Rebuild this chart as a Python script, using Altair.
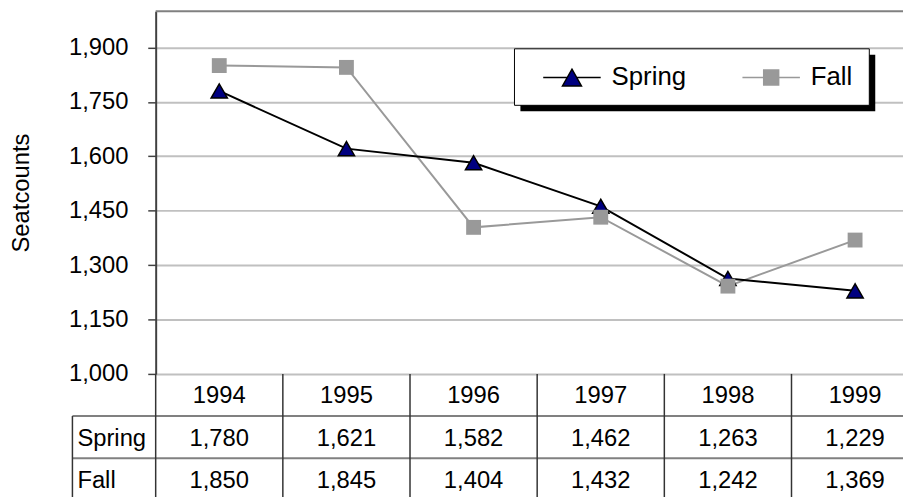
import altair as alt
import pandas as pd

# ---- data ----
years = [1994, 1995, 1996, 1997, 1998, 1999]
spring = [1780, 1621, 1582, 1462, 1263, 1229]
fall = [1850, 1845, 1404, 1432, 1242, 1369]
series = ["Spring", "Fall"]
y_ticks = [1000, 1150, 1300, 1450, 1600, 1750, 1900]

FONT = "Liberation Sans"
W, H = 754, 366          # plot area (extends past the right edge, like the reference)
COL = 128.3              # pixel width of one year column
x_dom = [years[0] - 0.5, years[0] - 0.5 + W / COL]

df = pd.DataFrame({
    "year": years * 2,
    "value": spring + fall,
    "series": ["Spring"] * len(years) + ["Fall"] * len(years),
})
df["row"] = df["series"].map({"Spring": 1.5, "Fall": 2.5})

hdr = pd.DataFrame({"year": years, "row": [0.5] * len(years)})
labels_df = pd.DataFrame({"series": series, "row": [1.5, 2.5]})
bounds = pd.DataFrame({"b": [y - 0.5 for y in years] + [years[-1] + 0.5]})
hlines = pd.DataFrame({"r": [1, 2]})
one = pd.DataFrame({"k": [0]})

xscale = alt.Scale(domain=x_dom, nice=False, zero=False)
yscale = alt.Scale(domain=[1000, 2000], nice=False, zero=False)
tscale = alt.Scale(domain=[0, 3], range=[H, H + 127.5], nice=False, zero=False)

x_enc = alt.X("year:Q", scale=xscale,
              axis=alt.Axis(labels=False, ticks=False, grid=False, title=None,
                            domainColor="black", domainWidth=2))
y_enc = alt.Y("value:Q", scale=yscale,
              axis=alt.Axis(values=y_ticks, format=",.0f", labelFont=FONT, labelFontSize=24,
                            labelColor="black", labelPadding=20, tickSize=8,
                            tickColor="#404040", tickWidth=1.5, domainColor="#404040",
                            domainWidth=2, grid=True, gridColor="#c0c0c0", gridWidth=2,
                            title="Seatcounts", titleFont=FONT, titleFontSize=24,
                            titleFontWeight="normal", titleColor="black",
                            titleX=-128, titleBaseline="alphabetic"))

base = alt.Chart(df).encode(x=x_enc, y=y_enc)
fall_line = base.transform_filter("datum.series == 'Fall'").mark_line(color="#999999", strokeWidth=2)
spring_line = base.transform_filter("datum.series == 'Spring'").mark_line(color="black", strokeWidth=2)
spring_pts = base.transform_filter("datum.series == 'Spring'").mark_point(
    shape="triangle-up", filled=True, fill="#000080", stroke="black", strokeWidth=1.5,
    size=270, opacity=1)
fall_pts = base.transform_filter("datum.series == 'Fall'").mark_point(
    shape="square", filled=True, fill="#999999", strokeWidth=0, size=225, opacity=1)

top_rule = alt.Chart(one).mark_rule(color="#808080", strokeWidth=2).encode(
    y=alt.datum(2000, scale=yscale))

# legend box with drop shadow
shadow = alt.Chart(one).mark_rect(fill="black").encode(
    x=alt.value(368), x2=alt.value(726), y=alt.value(44), y2=alt.value(101))
box = alt.Chart(one).mark_rect(fill="white", stroke="black", strokeWidth=1).encode(
    x=alt.value(362), x2=alt.value(720), y=alt.value(38), y2=alt.value(95))

P_SPRING = "M-1,0H-0.17M0.17,0H1M0,-0.29L0.33,0.29L-0.33,0.29Z"
P_FALL = "M-1,0H-0.26M0.26,0H1M-0.26,-0.26H0.26V0.26H-0.26Z"
leg = alt.Legend(orient="none", legendX=390, legendY=37, direction="horizontal",
                 title=None, padding=0, symbolSize=3364, symbolStrokeWidth=1.5,
                 labelFont=FONT, labelFontSize=26, labelColor="black", labelOffset=10,
                 columnPadding=53)
legend_layer = alt.Chart(pd.DataFrame({"series": series})).mark_point(
    filled=True, opacity=1).encode(
    x=alt.value(-2000), y=alt.value(-2000),
    shape=alt.Shape("series:N", scale=alt.Scale(domain=series, range=[P_SPRING, P_FALL]), legend=leg),
    fill=alt.Fill("series:N", scale=alt.Scale(domain=series, range=["#000080", "#999999"]), legend=leg),
    stroke=alt.Stroke("series:N", scale=alt.Scale(domain=series, range=["black", "#999999"]), legend=leg),
)

main = alt.layer(top_rule, fall_line, spring_line, spring_pts, fall_pts, shadow, box, legend_layer)

# ---- data table below the plot ----
ty = lambda f: alt.Y(f, scale=tscale, axis=None)
vlines = alt.Chart(bounds).mark_rule(color="#333333", strokeWidth=1.5).encode(
    x=alt.X("b:Q", scale=xscale, axis=None), y=alt.datum(0, scale=tscale, axis=None),
    y2=alt.datum(3))
left_border = alt.Chart(one).mark_rule(color="#333333", strokeWidth=1.5).encode(
    x=alt.value(-84), y=alt.datum(1, scale=tscale, axis=None), y2=alt.datum(3))
hrules = alt.Chart(hlines).mark_rule(color="#808080", strokeWidth=2).encode(
    x=alt.value(-84), x2=alt.value(W + 40), y=ty("r:Q"))
hdr_text = alt.Chart(hdr).mark_text(font=FONT, fontSize=24, color="black", dy=1.5).encode(
    x=alt.X("year:Q", scale=xscale, axis=None), y=ty("row:Q"), text=alt.Text("year:Q", format="d"))
val_text = alt.Chart(df).mark_text(font=FONT, fontSize=24, color="black", dy=1.5).encode(
    x=alt.X("year:Q", scale=xscale, axis=None), y=ty("row:Q"), text=alt.Text("value:Q", format=","))
row_text = alt.Chart(labels_df).mark_text(font=FONT, fontSize=24, color="black", align="left", dy=1.5).encode(
    x=alt.value(-79), y=ty("row:Q"), text="series:N")

table = alt.layer(hrules, vlines, left_border, hdr_text, val_text, row_text)

chart = alt.layer(main, table).resolve_scale(y="independent").properties(
    width=W, height=H,
    autosize=alt.AutoSizeParams(type="none"),
    padding={"left": 149, "top": 1, "right": 0, "bottom": 122},
    background="white",
).configure_view(stroke=None)

chart.save("out.html", embed_options={"renderer": "svg", "actions": False})
